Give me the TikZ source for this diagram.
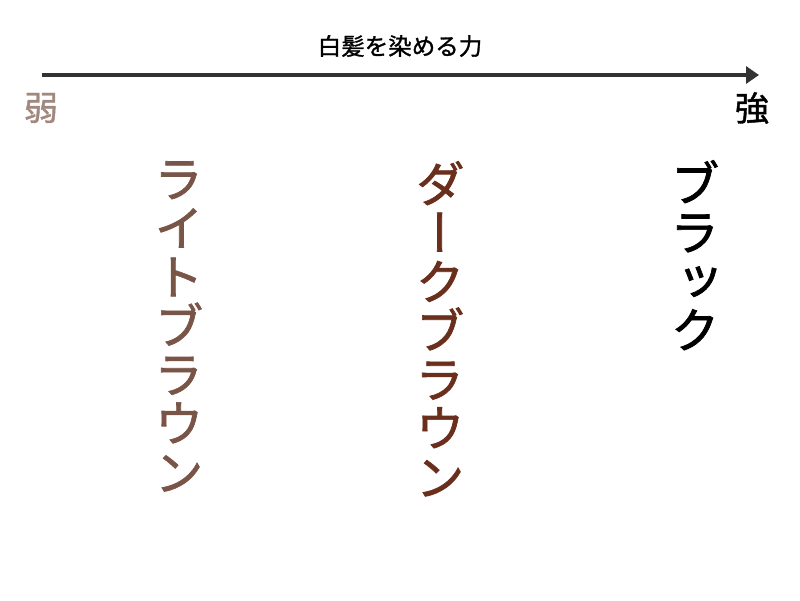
\documentclass[tikz,border=0pt]{standalone}
\usepackage{fontspec}
\setmainfont{Noto Sans CJK JP}[FakeBold=1.2,BoldFont={Noto Sans CJK JP}]
\newfontfamily\jp[FakeBold=1.2]{Noto Sans CJK JP}
\newfontfamily\vjp[RawFeature=+vert,FakeBold=1.4]{Noto Sans CJK JP}
\usetikzlibrary{arrows.meta}
\definecolor{axis}{HTML}{333333}
\definecolor{weak}{HTML}{A1887F}
\definecolor{lightbr}{HTML}{795548}
\definecolor{darkbr}{HTML}{6A2F1C}
\tikzset{
  vcol/.style={anchor=north, inner sep=0pt, align=center, font=\vjp\fontsize{49.5}{48.9}\selectfont},
  endlabel/.style={inner sep=0pt, font=\jp\fontsize{34}{36}\selectfont},
}
\begin{document}
\begin{tikzpicture}[x=1pt,y=-1pt]
\useasboundingbox (0,0) rectangle (800,600);
\coordinate (s) at (42,75);
\coordinate (e) at (759,75);
\draw[axis, line width=4pt, -{Triangle[length=13pt,width=17pt]}] (s) -- (e);
\node[inner sep=0pt, font=\jp\fontsize{23.5}{25}\selectfont] (title) at (400,46) {白髪を染める力};
\node[endlabel, text=weak] (weak) at (41,108) {弱};
\node[endlabel, text=black] (strong) at (752,108) {強};
\node[vcol, text=lightbr] (light) at (179,161) {ラ\\イ\\ト\\ブ\\ラ\\ウ\\ン};
\node[vcol, text=darkbr] (dark) at (440,161) {ダ\\ー\\ク\\ブ\\ラ\\ウ\\ン};
\node[vcol, text=black] (black) at (695,160) {ブ\\ラ\\ッ\\ク};
\end{tikzpicture}
\end{document}
